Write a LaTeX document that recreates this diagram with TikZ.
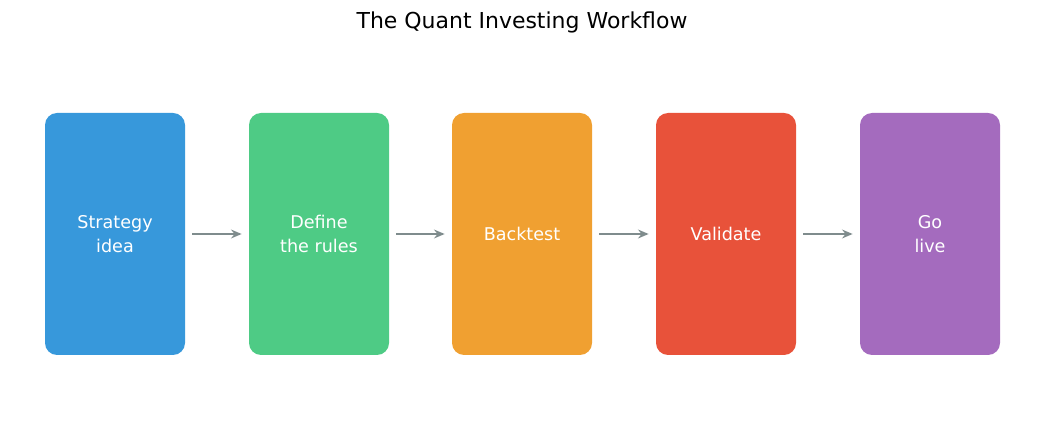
\documentclass[tikz,border=0pt]{standalone}
\usepackage{fontspec}
\setmainfont{DejaVu Sans}
\usetikzlibrary{arrows.meta}
\definecolor{stepblue}{HTML}{3798DB}
\definecolor{stepgreen}{HTML}{4ECB85}
\definecolor{steporange}{HTML}{F0A031}
\definecolor{stepred}{HTML}{E8523A}
\definecolor{steppurple}{HTML}{A46BBE}
\definecolor{arrowgray}{HTML}{7F8C8D}
\tikzset{
    stage/.style = {rounded corners = 0.24cm, minimum width = 2.8cm, minimum height = 4.84cm,
        text = white, align = center, font = \fontsize{10}{14}\selectfont, inner sep = 0},
    flow/.style = {-{Stealth[length = 6pt, width = 5pt]}, arrowgray, line width = 1.4pt}
}
\begin{document}
\begin{tikzpicture}
    \useasboundingbox (0, 0) rectangle (20.88, 8.46);
    %% title
    \node (title) at (10.44, 8.02) {\fontsize{12.5}{15}\selectfont The Quant Investing Workflow};

    %% stages
    \node[stage, fill = stepblue] (idea) at (2.30, 3.78) {Strategy\\idea};
    \node[stage, fill = stepgreen] (rules) at (6.38, 3.78) {Define\\the rules};
    \node[stage, fill = steporange] (backtest) at (10.44, 3.78) {Backtest};
    \node[stage, fill = stepred] (validate) at (14.52, 3.78) {Validate};
    \node[stage, fill = steppurple] (live) at (18.60, 3.78) {Go\\live};

    %% arrows
    \foreach \a/\b in {idea/rules, rules/backtest, backtest/validate, validate/live}
        \draw[flow] ([xshift = 0.14cm]\a.east) -- ([xshift = -0.14cm]\b.west);
\end{tikzpicture}
\end{document}
